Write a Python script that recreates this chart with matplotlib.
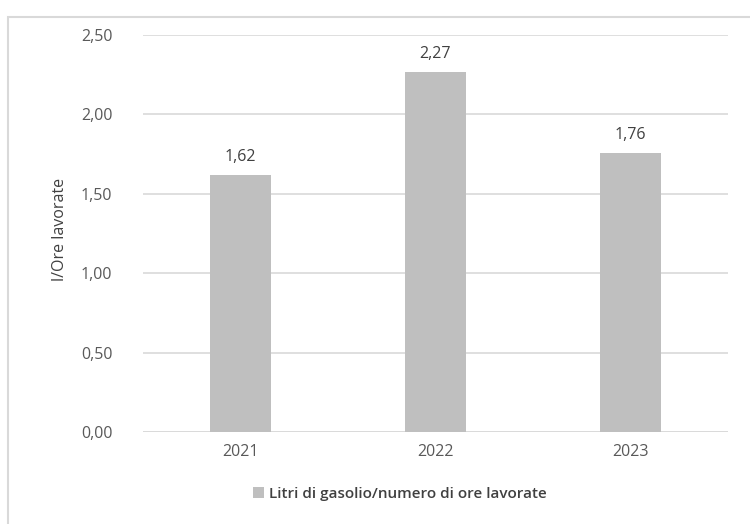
import matplotlib
matplotlib.use("Agg")
import matplotlib.pyplot as plt
from matplotlib.patches import Rectangle

years = ["2021", "2022", "2023"]
values = [1.62, 2.27, 1.76]
tick_values = [0.0, 0.5, 1.0, 1.5, 2.0, 2.5]
series_name = "Litri di gasolio/numero di ore lavorate"

plt.rcParams["font.family"] = ["Open Sans", "DejaVu Sans"]

fig = plt.figure(figsize=(7.5, 5.24), dpi=100)
ax = fig.add_axes([143 / 750, 1 - 432 / 524, (728 - 143) / 750, (432 - 35) / 524])

# frame around the chart, cut at right and bottom like the screenshot
fig.patches.append(Rectangle((8 / 750, -0.1), 1.2, 1 - 17 / 524 + 0.1,
                             transform=fig.transFigure, fill=False,
                             edgecolor="#d9d9d9", linewidth=1.5))

x = range(len(years))
bars = ax.bar(x, values, width=0.31, color="#bfbfbf", zorder=2, label=series_name)
for i, v in zip(x, values):
    ax.text(i, v + 0.06, f"{v:.2f}".replace(".", ","), ha="center", va="bottom",
            fontsize=11.5, color="#404040")

ax.set_xlim(-0.5, 2.5)
ax.set_ylim(0, 2.5)
ax.set_yticks(tick_values)
ax.set_yticklabels([f"{t:.2f}".replace(".", ",") for t in tick_values])
ax.set_xticks(list(x))
ax.set_xticklabels(years)
ax.tick_params(axis="both", length=0, labelsize=11.5, labelcolor="#595959")
ax.tick_params(axis="y", pad=22)
ax.tick_params(axis="x", pad=9)
ax.grid(axis="y", color="#d9d9d9", linewidth=1.2, zorder=0)
for s in ax.spines.values():
    s.set_visible(False)
ax.axhline(0, color="#d9d9d9", linewidth=1.2, zorder=1)

ax.set_ylabel("l/Ore lavorate", fontsize=11.5, color="#404040")
ax.yaxis.set_label_coords(-0.128, 0.51)

leg = fig.legend(handles=[bars], labels=[series_name], loc="center",
                 bbox_to_anchor=(400 / 750, 1 - 494 / 524), frameon=False,
                 handlelength=0.7, handleheight=0.7, handletextpad=0.3,
                 prop={"size": 11, "weight": "semibold"})
for t in leg.get_texts():
    t.set_color("#404040")

fig.savefig("out.png", dpi=100)
